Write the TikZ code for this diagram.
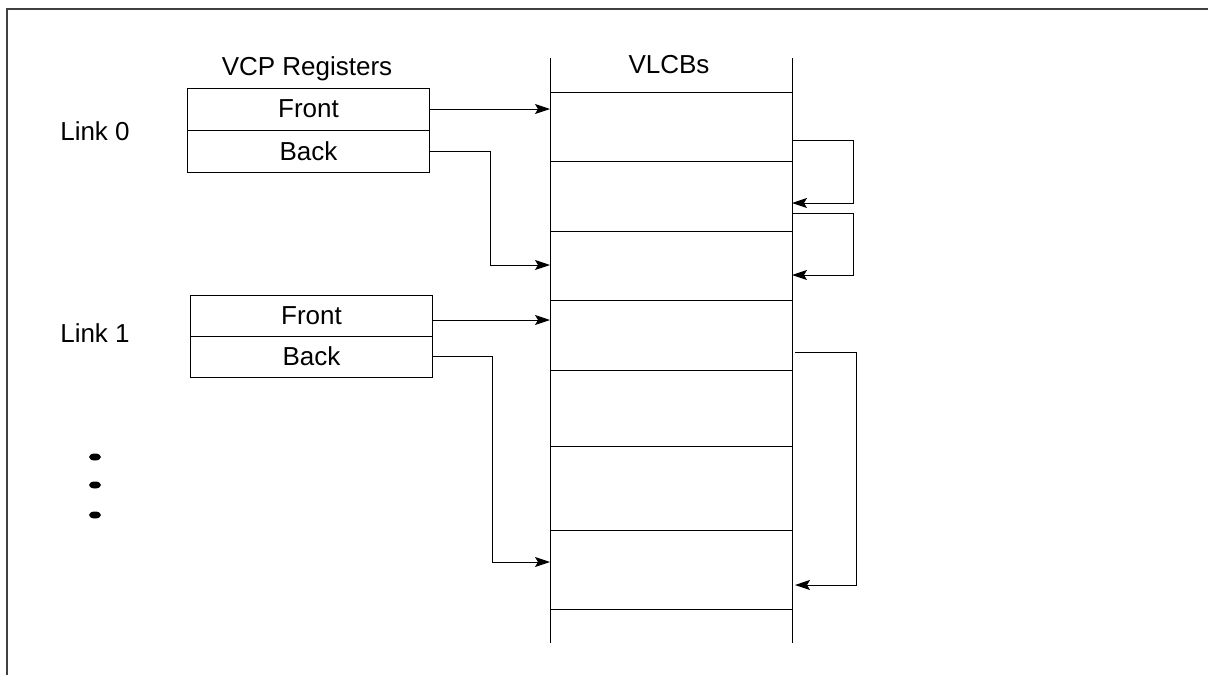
\documentclass[tikz,border=0pt]{standalone}
\usepackage{fontspec}
\setmainfont{Liberation Sans}
\usetikzlibrary{arrows.meta,shapes.geometric}
\begin{document}
\begin{tikzpicture}[x=1pt,y=-1pt,
  txt/.style={font=\fontsize{26}{28}\selectfont, inner sep=0pt},
  reg/.style={draw, line width=1pt, minimum width=242pt, minimum height=41pt, inner sep=0pt, font=\fontsize{26}{28}\selectfont},
  wire/.style={line width=1pt},
  ptr/.style={line width=1pt, -{Stealth[length=15pt,width=10pt,inset=3pt]}},
  dot/.style={fill=black, ellipse, inner sep=0pt}]
\useasboundingbox (0,0) rectangle (1208,675);
\draw[line width=2pt, black!75] (1208,9) -- (7,9) -- (7,675);

% labels
\node[txt, anchor=base] (vcp) at (307,75) {VCP Registers};
\node[txt, anchor=base] (vlcb) at (669,73) {VLCBs};
\node[txt, anchor=base] (l0) at (95,140) {Link 0};
\node[txt, anchor=base] (l1) at (95,342) {Link 1};

% registers
\node[reg, minimum height=42pt] (f0) at (308.5,109) {Front};
\node[reg, minimum height=42pt] (b0) at (308.5,151) {Back};
\node[reg] (f1) at (311.5,315.5) {Front};
\node[reg] (b1) at (311.5,356.5) {Back};

% VLCB column
\draw[wire] (550,58) -- (550,643);
\draw[wire] (792,58) -- (792,643);
\foreach \y in {92,161,231,300,370,446,530,609}
  \draw[wire] (550,\y) -- (792,\y);

% targets on the column
\coordinate (t0) at (550,109);
\coordinate (t1) at (550,265);
\coordinate (t2) at (550,320);
\coordinate (t3) at (550,562);
\coordinate (r0s) at (792,140);
\coordinate (r0e) at (792,203);
\coordinate (r1s) at (792,213);
\coordinate (r1e) at (792,275);
\coordinate (r2s) at (795,352);
\coordinate (r2e) at (795,585);

% pointers from registers
\draw[ptr] (f0.east |- t0) -- (t0);
\draw[ptr] (b0.east) -- (490,151) |- (t1);
\draw[ptr] (f1.east |- t2) -- (t2);
\draw[ptr] (b1.east) -- (492,356.5) |- (t3);

% links between VLCBs
\draw[ptr] (r0s) -- (853,140) |- (r0e);
\draw[ptr] (r1s) -- (853,213) |- (r1e);
\draw[ptr] (r2s) -- (856,352) |- (r2e);

% continuation dots
\node[dot, minimum width=12pt, minimum height=7pt] (d1) at (95,457) {};
\node[dot, minimum width=12pt, minimum height=7pt] (d2) at (95,485) {};
\node[dot, minimum width=12pt, minimum height=7pt] (d3) at (95,515) {};
\end{tikzpicture}
\end{document}
